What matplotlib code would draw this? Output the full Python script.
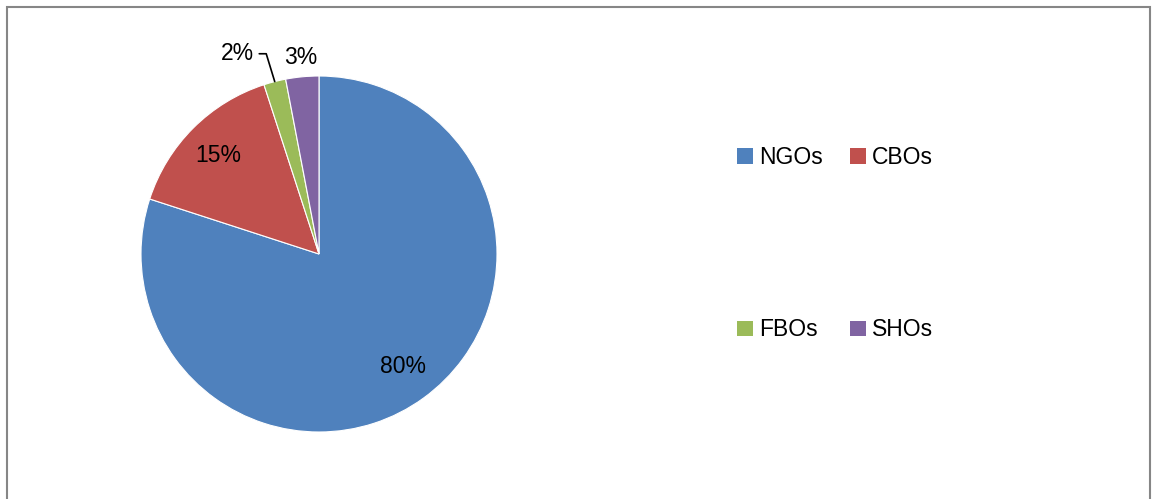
import math
import matplotlib
matplotlib.use('Agg')
import matplotlib.pyplot as plt
from matplotlib.patches import Patch, Rectangle

plt.rcParams['font.family'] = ['Liberation Sans', 'DejaVu Sans']

labels = ['NGOs', 'CBOs', 'FBOs', 'SHOs']
shares = [80, 15, 2, 3]
colors = ['#4F81BD', '#C0504D', '#9BBB59', '#8064A2']

W, H = 1157, 499
fig = plt.figure(figsize=(W / 100, H / 100), dpi=100)

# chart-area border (bottom edge runs off the image)
fig.patches.append(Rectangle((7 / W, -0.1), (1150 - 7) / W, 1.1 - 7 / H,
                             transform=fig.transFigure, fill=False,
                             edgecolor='#868686', linewidth=1.5))

# pie: centre (319, 254) px, radius 178 px
cx, cy, r = 319, 254, 178
ax = fig.add_axes([(cx - r) / W, (H - cy - r) / H, 2 * r / W, 2 * r / H])
wedges, _ = ax.pie(shares, colors=colors, startangle=90, counterclock=False,
                   wedgeprops=dict(edgecolor='white', linewidth=0.8))
ax.set_xlim(-1, 1)
ax.set_ylim(-1, 1)
ax.set_aspect('equal')
ax.axis('off')

total = sum(shares)
cum = 0
mids = []
for v in shares:
    mid = 90 - 360 * (cum + v / 2) / total
    mids.append(math.radians(mid))
    cum += v

fs = 16.5
# big slices: inside
for i in (0, 1):
    ax.text(0.8 * math.cos(mids[i]), 0.78 * math.sin(mids[i]), f'{shares[i]}%',
            ha='center', va='center', fontsize=fs)
# SHOs label just outside
ax.text(1.11 * math.cos(mids[3]), 1.11 * math.sin(mids[3]), f'{shares[3]}%',
        ha='center', va='center', fontsize=fs)
# FBOs label with leader line
ax.annotate(f'{shares[2]}%', xy=(math.cos(mids[2]), math.sin(mids[2])),
            xytext=(-0.46, 1.125), ha='center', va='center', fontsize=fs,
            arrowprops=dict(arrowstyle='-', color='black', linewidth=1.2,
                            shrinkA=2, shrinkB=0,
                            connectionstyle='angle,angleA=0,angleB=107,rad=0'))

# legend fills row by row: NGOs CBOs / FBOs SHOs
handles = [Patch(facecolor=c, edgecolor='none') for c in colors]
order = [0, 2, 1, 3]
fig.legend([handles[i] for i in order], [labels[i] for i in order], ncol=2,
           loc='upper left', bbox_to_anchor=(737 / W, 1 - 146 / H),
           frameon=False, fontsize=fs, borderpad=0, borderaxespad=0,
           handlelength=0.7, handleheight=0.68, handletextpad=0.26,
           columnspacing=1.2, labelspacing=6.52)

fig.savefig('out.png', dpi=100)
